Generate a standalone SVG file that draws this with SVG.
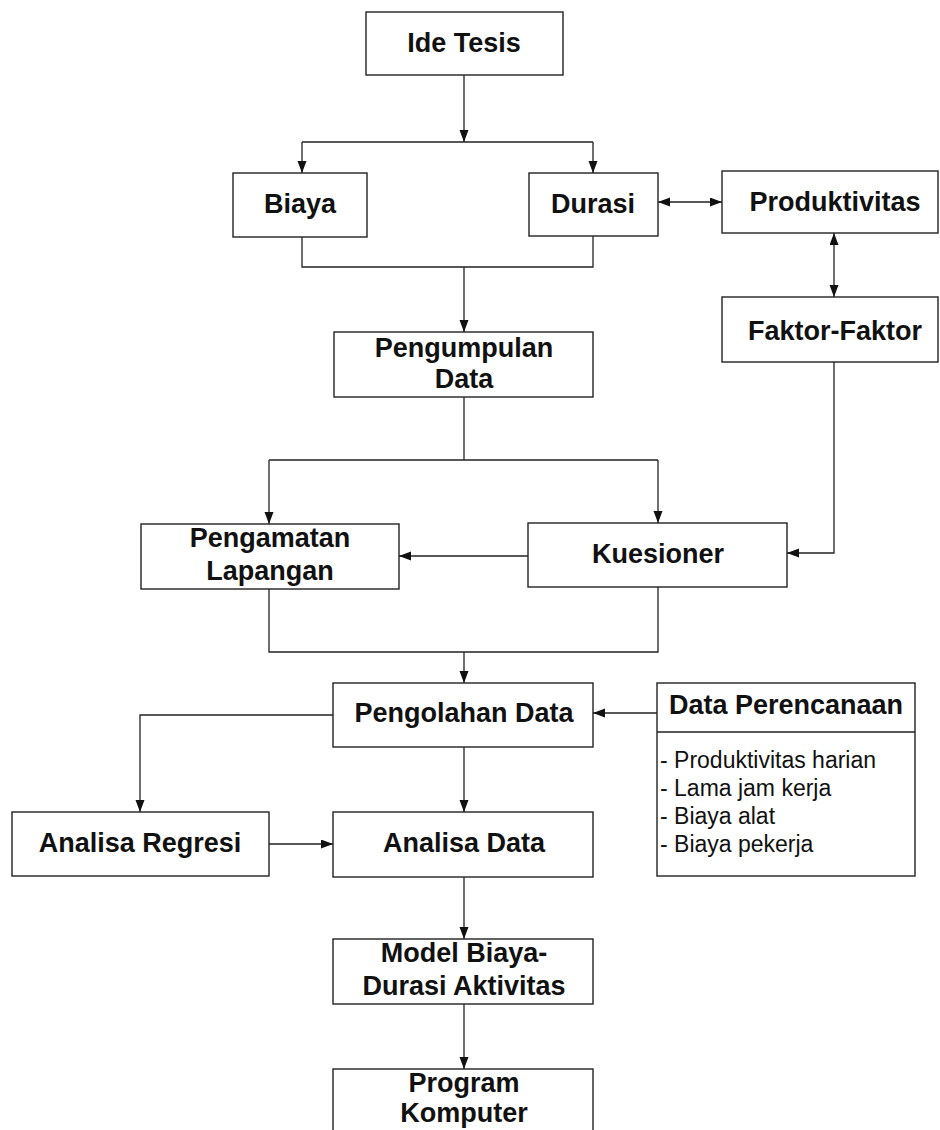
<svg xmlns="http://www.w3.org/2000/svg" width="940" height="1130" viewBox="0 0 940 1130">
<style>
.box{fill:#fff;stroke:#222;stroke-width:1.4}
.t{font-family:"Liberation Sans",Arial,sans-serif;font-weight:bold;font-size:27px;fill:#111;text-anchor:middle}
.l{font-family:"Liberation Sans",Arial,sans-serif;font-size:23px;fill:#111}
.c{fill:none;stroke:#222;stroke-width:1.3}
</style>
<defs>
<marker id="ah" markerUnits="userSpaceOnUse" markerWidth="13" markerHeight="10" refX="12" refY="4.5" orient="auto-start-reverse">
<path d="M0,0 L12,4.5 L0,9 z" fill="#111"/>
</marker>
</defs>
<rect width="940" height="1130" fill="#fff"/>
<g id="connectors">
<path class="c" d="M464,75 V142" marker-end="url(#ah)"/>
<path class="c" d="M302,142 H593"/>
<path class="c" d="M302,142 V173" marker-end="url(#ah)"/>
<path class="c" d="M593,142 V173" marker-end="url(#ah)"/>
<path class="c" d="M302,237 V267 H593 V236"/>
<path class="c" d="M464,267 V332" marker-end="url(#ah)"/>
<path class="c" d="M658,202 H722" marker-start="url(#ah)" marker-end="url(#ah)"/>
<path class="c" d="M834,233 V297" marker-start="url(#ah)" marker-end="url(#ah)"/>
<path class="c" d="M834,362 V553 H787" marker-end="url(#ah)"/>
<path class="c" d="M464,397 V460"/>
<path class="c" d="M269,460 H658"/>
<path class="c" d="M269,460 V524" marker-end="url(#ah)"/>
<path class="c" d="M658,460 V523" marker-end="url(#ah)"/>
<path class="c" d="M528,556 H399" marker-end="url(#ah)"/>
<path class="c" d="M269,589 V652 H658 V587"/>
<path class="c" d="M464,652 V683" marker-end="url(#ah)"/>
<path class="c" d="M657,713 H593" marker-end="url(#ah)"/>
<path class="c" d="M333,715 H140 V812" marker-end="url(#ah)"/>
<path class="c" d="M464,747 V812" marker-end="url(#ah)"/>
<path class="c" d="M269,844 H333" marker-end="url(#ah)"/>
<path class="c" d="M464,877 V939" marker-end="url(#ah)"/>
<path class="c" d="M464,1004 V1069" marker-end="url(#ah)"/>
</g>
<g id="ide-tesis"><rect class="box" x="366" y="12" width="197" height="63"/><text class="t" x="464" y="52">Ide Tesis</text></g>
<g id="biaya"><rect class="box" x="233" y="173" width="134" height="64"/><text class="t" x="300" y="213">Biaya</text></g>
<g id="durasi"><rect class="box" x="529" y="173" width="129" height="63"/><text class="t" x="593" y="213">Durasi</text></g>
<g id="produktivitas"><rect class="box" x="722" y="171" width="216" height="62"/><text class="t" x="835" y="211">Produktivitas</text></g>
<g id="faktor-faktor"><rect class="box" x="722" y="297" width="216" height="65"/><text class="t" x="835" y="340">Faktor-Faktor</text></g>
<g id="pengumpulan-data"><rect class="box" x="334" y="332" width="259" height="65"/><text class="t" x="464" y="357">Pengumpulan</text><text class="t" x="464" y="388">Data</text></g>
<g id="pengamatan-lapangan"><rect class="box" x="141" y="524" width="258" height="65"/><text class="t" x="270" y="547">Pengamatan</text><text class="t" x="270" y="580">Lapangan</text></g>
<g id="kuesioner"><rect class="box" x="528" y="523" width="259" height="64"/><text class="t" x="658" y="563">Kuesioner</text></g>
<g id="pengolahan-data"><rect class="box" x="333" y="683" width="260" height="64"/><text class="t" x="464" y="722">Pengolahan Data</text></g>
<g id="data-perencanaan"><rect class="box" x="657" y="683" width="258" height="193"/><line class="c" x1="657" y1="732" x2="915" y2="732"/><text class="t" x="786" y="714">Data Perencanaan</text>
<text class="l" x="660" y="768">- Produktivitas harian</text>
<text class="l" x="660" y="796">- Lama jam kerja</text>
<text class="l" x="660" y="824">- Biaya alat</text>
<text class="l" x="660" y="852">- Biaya pekerja</text></g>
<g id="analisa-regresi"><rect class="box" x="12" y="812" width="257" height="64"/><text class="t" x="140" y="852">Analisa Regresi</text></g>
<g id="analisa-data"><rect class="box" x="333" y="812" width="260" height="65"/><text class="t" x="464" y="852">Analisa Data</text></g>
<g id="model-biaya-durasi"><rect class="box" x="333" y="939" width="260" height="65"/><text class="t" x="464" y="962">Model Biaya-</text><text class="t" x="464" y="995">Durasi Aktivitas</text></g>
<g id="program-komputer"><rect class="box" x="333" y="1069" width="260" height="70"/><text class="t" x="464" y="1092">Program</text><text class="t" x="464" y="1122">Komputer</text></g>
</svg>
